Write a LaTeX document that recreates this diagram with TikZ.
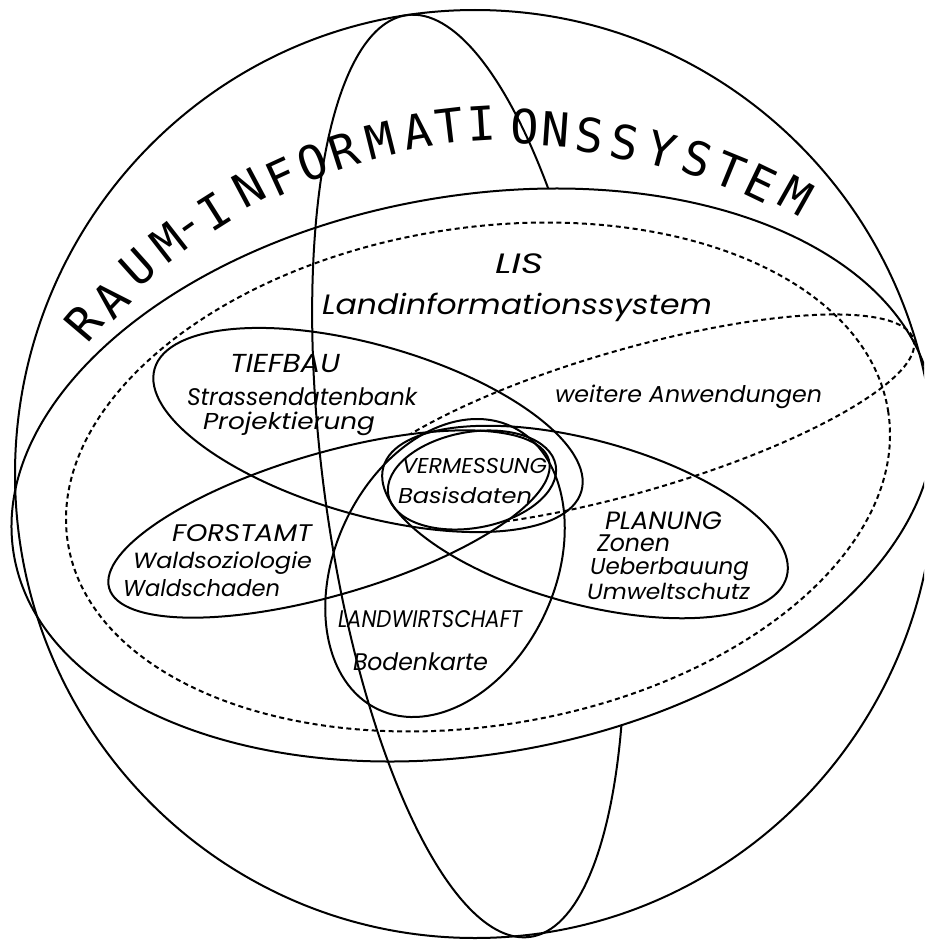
\documentclass[tikz,border=0pt]{standalone}
\usepackage{fontspec}
\usepackage{graphicx}
\newfontfamily\ttlfont{DejaVu Sans Mono}
\newfontfamily\lblfont{Poppins}
\newcommand\lbltext[3]{\resizebox{#2pt}{\height}{\fontsize{#1}{#1}\selectfont\lblfont\itshape #3}}
\begin{document}
\begin{tikzpicture}[x=1pt,y=-1pt,
  solidline/.style={draw=black, line width=2pt},
  dotline/.style={draw=black, line width=2pt, dash pattern=on 5pt off 3.5pt},
  lbl/.style={anchor=base west, inner sep=0pt, outer sep=0pt},
  ttl/.style={inner sep=0pt, font=\ttlfont\fontsize{47}{47}\selectfont}]
\fill[white] (0,0) rectangle (924,942);
\useasboundingbox (0,0) rectangle (924,942);
\clip (0,0) rectangle (924,942);

% sphere outline
\draw[solidline] (475,474) ellipse[x radius=460, y radius=464];
% equator band
\draw[solidline, rotate around={10:(473,475)}] (473,475) ellipse[x radius=466, y radius=279];
% meridian: front half and visible parts of back half
\begin{scope}[shift={(468.5,476)}, rotate=7.6]
  \draw[solidline] (0,465) arc[start angle=90, end angle=270, x radius=145, y radius=465];
  \draw[solidline] (0,-465) arc[start angle=-90, end angle=-36.2, x radius=145, y radius=465];
  \draw[solidline] (118.6,267.4) arc[start angle=35.1, end angle=90, x radius=145, y radius=465];
\end{scope}
% LIS dotted
\draw[dotline, rotate around={9.2:(478,477)}] (478,477) ellipse[x radius=415.4, y radius=248.8];
% weitere Anwendungen dotted, hidden inside FORSTAMT
\begin{scope}
  \clip (-10,-10) -- (934,-10) -- (934,952) -- (-10,952) -- cycle
    {[rotate around={16.3:(329,524)}] (558,524) arc[start angle=0, end angle=-360, x radius=229, y radius=71]};
  \draw[dotline, rotate around={16.1:(631,421)}] (631,421) ellipse[x radius=294, y radius=71.4];
\end{scope}
% application ellipses
\draw[solidline, rotate around={16.3:(329,524)}] (329,524) ellipse[x radius=229, y radius=71];   % FORSTAMT
\draw[solidline, rotate around={-15.2:(585,522)}] (585,522) ellipse[x radius=209, y radius=82]; % PLANUNG
\draw[solidline, rotate around={-16:(368,430)}] (368,430) ellipse[x radius=222, y radius=85];   % TIEFBAU
\draw[solidline, rotate around={64.7:(445,568)}] (445,568) ellipse[x radius=156.4, y radius=109.9]; % LANDWIRTSCHAFT
\draw[solidline, rotate around={10:(472,480)}] (472,480) ellipse[x radius=85, y radius=48];      % VERMESSUNG

% title along the arc
\foreach \c/\x/\y [count=\i] in {R/84/323, A/111/299, U/138/268, M/168/242, -/192/231, I/214/211, N/249/188, F/281/177, O/313/162, R/344/151, M/380/140, A/417/131, T/450/126, I/482/124, O/525/127, N/556/129, S/590/135, S/625/142, Y/662/150, S/697/159, T/730/171, E/761/183, M/796/196}{
  \pgfmathsetmacro\r{atan2(691-\y,\x-517)-90}
  \node[ttl, rotate=\r] (title\i) at (\x,\y) {\makebox[0.4em][c]{\c}};
}

% labels
\node[lbl] (lis) at (495,273) {\lbltext{28}{48}{LIS}};
\node[lbl] (lisname) at (322,314) {\lbltext{28}{390}{Landinformationssystem}};
\node[lbl] (tb1) at (230,372) {\lbltext{26}{110}{TIEFBAU}};
\node[lbl] (tb2) at (187,405) {\lbltext{24}{230}{Strassendatenbank}};
\node[lbl] (tb3) at (203,429) {\lbltext{23}{172}{Projektierung}};
\node[lbl] (wa) at (555,402) {\lbltext{23}{267}{weitere Anwendungen}};
\node[lbl] (vm1) at (402,473) {\lbltext{21.5}{145}{VERMESSUNG}};
\node[lbl] (vm2) at (398,503) {\lbltext{21.5}{134}{Basisdaten}};
\node[lbl] (fa1) at (172,541) {\lbltext{24}{140}{FORSTAMT}};
\node[lbl] (fa2) at (133,568) {\lbltext{22}{179}{Waldsoziologie}};
\node[lbl] (fa3) at (123,596) {\lbltext{23}{157}{Waldschaden}};
\node[lbl] (lw1) at (338,627) {\lbltext{24}{184}{LANDWIRTSCHAFT}};
\node[lbl] (lw2) at (353,670) {\lbltext{24}{135}{Bodenkarte}};
\node[lbl] (pl1) at (605,529) {\lbltext{25}{117}{PLANUNG}};
\node[lbl] (pl2) at (597,551) {\lbltext{24}{73}{Zonen}};
\node[lbl] (pl3) at (590,574) {\lbltext{23}{159}{Ueberbauung}};
\node[lbl] (pl4) at (587,599) {\lbltext{22}{163}{Umweltschutz}};
\end{tikzpicture}
\end{document}
